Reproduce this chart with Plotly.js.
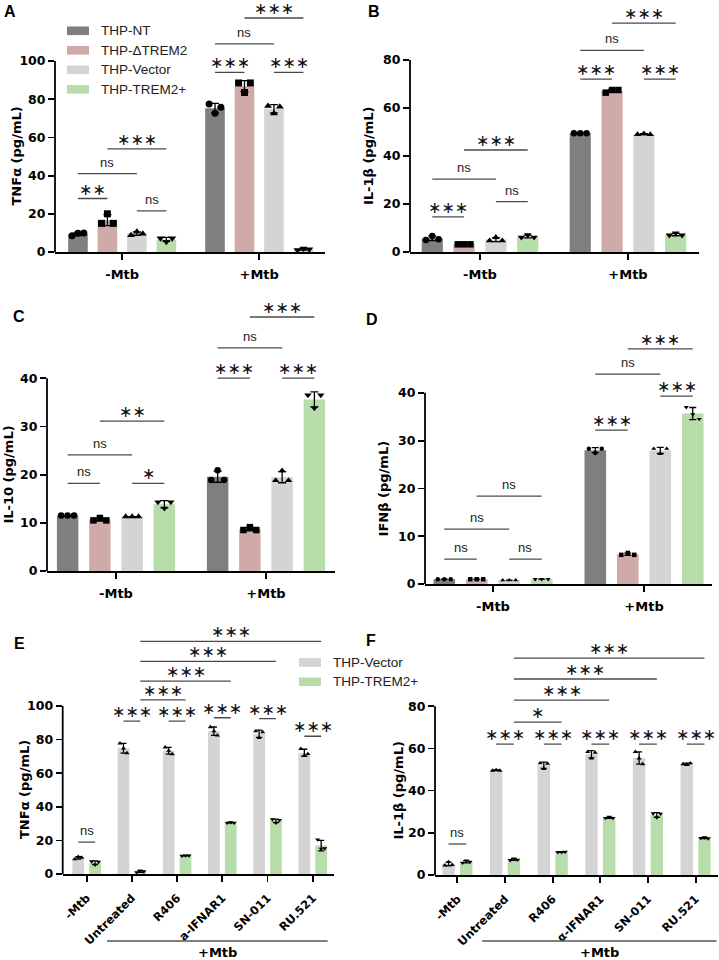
<!DOCTYPE html>
<html><head><meta charset="utf-8">
<script src="https://cdn.plot.ly/plotly-3.0.1.min.js"></script>
<style>html,body{margin:0;padding:0;background:#fff}#chart{width:719px;height:960px}</style>
</head><body><div id="chart"></div>
<script>
// ================= DATA =================
const groupsAD = ['-Mtb', '+Mtb'];
const seriesAD = ['THP-NT', 'THP-\u0394TREM2', 'THP-Vector', 'THP-TREM2+'];

// Panel A: TNFα (pg/mL) – replicates per group [-Mtb, +Mtb]
const tnfA_NT      = [[8.5, 9.8, 10], [77.5, 72.6, 75.8]];
const tnfA_dTREM2  = [[15, 20, 15], [88.5, 83.5, 88.5]];
const tnfA_Vector  = [[8.8, 10.6, 9.6], [76.5, 72.5, 76]];
const tnfA_TREM2p  = [[7.2, 5.4, 7.2], [1, 1.8, 1.5]];

// Panel B: IL-1β (pg/mL)
const il1bB_NT     = [[5, 6.7, 5.3], [49.5, 49.5, 49.5]];
const il1bB_dTREM2 = [[3.2, 3.2, 3.2], [66.4, 67.5, 67.5]];
const il1bB_Vector = [[4.7, 6.1, 4.7], [49, 49.3, 49]];
const il1bB_TREM2p = [[6.1, 7.1, 6.1], [7, 7.9, 7]];

// Panel C: IL-10 (pg/mL)
const il10C_NT     = [[11.5, 11.5, 11.5], [18.9, 20.9, 18.9]];
const il10C_dTREM2 = [[10.5, 11, 10.5], [8.5, 9.1, 8.5]];
const il10C_Vector = [[11.3, 11.3, 11.3], [18.8, 20.8, 18.8]];
const il10C_TREM2p = [[14.3, 13, 14.3], [36.5, 33.8, 36.5]];

// Panel D: IFNβ (pg/mL)
const ifnD_NT      = [[1, 1, 1], [28.3, 27.4, 28.3]];
const ifnD_dTREM2  = [[1, 1, 1], [6.1, 6.5, 6.1]];
const ifnD_Vector  = [[0.8, 0.8, 0.8], [28.3, 27.2, 28.3]];
const ifnD_TREM2p  = [[1, 1, 1], [37, 35.5, 34.5]];

// Panels E/F
const treatEF = ['-Mtb', 'Untreated', 'R406', 'a-IFNAR1', 'SN-011', 'RU.521'];
const treatF  = ['-Mtb', 'Untreated', 'R406', '\u03b1-IFNAR1', 'SN-011', 'RU.521'];
const seriesEF = ['THP-Vector', 'THP-TREM2+'];

const tnfE_Vector = [[8.8, 10.2, 9.8], [77.8, 74.8, 72], [75.4, 73.4, 71.4], [87.5, 85, 82.5], [85, 81, 84.5], [74.5, 70.5, 71.5]];
const tnfE_TREM2p = [[7.5, 5.5, 7.2], [1, 2, 1.5], [10.8, 11, 11], [30.5, 30.8, 30.5], [32.5, 30.5, 32], [20.5, 15, 15.2]];

const il1bF_Vector = [[4.6, 6.2, 4.8], [49.5, 49.8, 49.5], [53, 50.3, 52.8], [58.4, 55.3, 58], [58.4, 55.3, 52.6], [52.6, 52.2, 53]];
const il1bF_TREM2p = [[5.8, 6.8, 6.2], [7, 7.8, 7.2], [10.8, 10.8, 11], [27, 27.5, 27], [29.2, 27.2, 29], [17.5, 17.8, 17.3]];

// Significance: [group1, series1, group2, series2, level, label]
const sigA = [[0,0,0,1,28,'**'],[0,2,0,3,21.5,'ns'],[0,0,0,2,41,'ns'],[0,1,0,3,54,'***'],
              [1,0,1,1,94,'***'],[1,2,1,3,94,'***'],[1,0,1,2,109,'ns'],[1,1,1,3,122.5,'***']];
const sigB = [[0,0,0,1,14.6,'***'],[0,2,0,3,21,'ns'],[0,0,0,2,30.4,'ns'],[0,1,0,3,42.5,'***'],
              [1,0,1,1,72,'***'],[1,2,1,3,72,'***'],[1,0,1,2,84,'ns'],[1,1,1,3,95.4,'***']];
const sigC = [[0,0,0,1,18.2,'ns'],[0,2,0,3,18.2,'*'],[0,0,0,2,24.1,'ns'],[0,1,0,3,31.1,'**'],
              [1,0,1,1,40,'***'],[1,2,1,3,40,'***'],[1,0,1,2,46.3,'ns'],[1,1,1,3,52.7,'***']];
const sigD = [[0,0,0,1,5.2,'ns'],[0,2,0,3,5.2,'ns'],[0,0,0,2,11.5,'ns'],[0,1,0,3,18.4,'ns'],
              [1,0,1,1,32.2,'***'],[1,2,1,3,39.3,'***'],[1,0,1,2,43.9,'ns'],[1,1,1,3,49.2,'***']];
const sigE = [[0,0,0,1,19,'ns'],[1,0,1,1,91,'***'],[2,0,2,1,91,'***'],[3,0,3,1,93,'***'],[4,0,4,1,92.5,'***'],[5,0,5,1,82,'***'],
              [1,1,2,1,103.6,'***'],[1,1,3,1,114.8,'***'],[1,1,4,1,126.6,'***'],[1,1,5,1,138.5,'***']];
const sigF = [[0,0,0,1,14.7,'ns'],[1,0,1,1,62,'***'],[2,0,2,1,62,'***'],[3,0,3,1,62,'***'],[4,0,4,1,62,'***'],[5,0,5,1,62,'***'],
              [1,1,2,1,72.5,'*'],[1,1,3,1,82.9,'***'],[1,1,4,1,92.9,'***'],[1,1,5,1,102.8,'***']];

// ================= STYLE =================
const W = 719, H = 960;
const FB = 'DejaVu Sans, Liberation Sans, Arial, sans-serif';
const FR = 'Liberation Sans, Arial, sans-serif';
const colAD = ['#7f7f7f', '#cfaaa9', '#d4d4d4', '#b9dcab'];
const symAD = ['circle', 'square', 'triangle-up', 'triangle-down'];
const colEF = ['#d4d4d4', '#b9dcab'];
const symEF = ['triangle-up', 'triangle-down'];
const px = v => v / W, py = v => 1 - v / H;

const mean = a => a.reduce((s, v) => s + v, 0) / a.length;
const sd = a => { const m = mean(a); return Math.sqrt(a.reduce((s, v) => s + (v - m) * (v - m), 0) / (a.length - 1)); };

const traces = [], shapes = [], annotations = [], layout = {};

function panel(p) {
  const n = p.idx === 1 ? '' : String(p.idx);
  const xid = 'x' + n, yid = 'y' + n;
  const yTop = p.zeroPx - p.ymax * p.ppu;
  layout['xaxis' + n] = {
    domain: [px(p.xbox[0]), px(p.xbox[1])], range: p.xrange, anchor: yid,
    tickvals: p.cats.map((c, i) => i), ticktext: p.cats, tickangle: p.angle,
    showline: true, linecolor: '#000', linewidth: 1.8, ticks: 'outside', ticklen: 6, tickwidth: 1.8, tickcolor: '#000',
    showgrid: false, zeroline: false, fixedrange: true, ticklabelstandoff: p.standoff,
    tickfont: {family: FB, size: p.xfs, color: '#000', weight: 'bold'}
  };
  layout['yaxis' + n] = {
    domain: [py(p.zeroPx), py(yTop)], range: [0, p.ymax], anchor: xid,
    tickvals: p.yticks, showline: false, ticks: 'outside', ticklen: 6, tickwidth: 1.8, tickcolor: '#000',
    showgrid: false, zeroline: false, fixedrange: true,
    tickfont: {family: FB, size: 12.5, color: '#000', weight: 'bold'}
  };
  // y axis line only up to the last tick
  shapes.push({type: 'line', xref: xid + ' domain', yref: yid, x0: 0, x1: 0, y0: 0, y1: p.yticks[p.yticks.length - 1],
               line: {color: '#000', width: 1.8}});
  p.series.forEach((s, si) => {
    const off = p.offsets[si];
    traces.push({type: 'bar', xaxis: xid, yaxis: yid, x: s.reps.map((r, i) => i + off), y: s.reps.map(mean),
      width: p.bw, marker: {color: s.color, line: {width: 0}}, showlegend: false, hoverinfo: 'skip',
      error_y: {type: 'data', array: s.reps.map(sd), visible: true, color: '#000', thickness: 1.3, width: p.cap}});
    const xs = [], ys = [];
    s.reps.forEach((r, i) => r.forEach((v, k) => { xs.push(i + off + p.jit[k] * p.bw); ys.push(v); }));
    traces.push({type: 'scatter', mode: 'markers', xaxis: xid, yaxis: yid, x: xs, y: ys, cliponaxis: false,
      marker: {symbol: s.symbol, color: '#000', size: p.msize}, showlegend: false, hoverinfo: 'skip'});
  });
  p.sig.forEach(([g1, s1, g2, s2, lev, lab]) => {
    const xa = g1 + p.offsets[s1], xb = g2 + p.offsets[s2];
    shapes.push({type: 'line', xref: xid, yref: yid, x0: xa, x1: xb, y0: lev, y1: lev, line: {color: '#4a4a4a', width: 1.3}});
    const star = lab !== 'ns';
    annotations.push({xref: xid, yref: yid, x: (xa + xb) / 2, y: lev, showarrow: false, yanchor: 'bottom',
      yshift: star ? -2 : 2,
      text: star ? lab.replace(/\*/g, '\u2217') : lab,
      font: star ? {family: 'DejaVu Sans', size: 16, color: '#111'} : {family: FR, size: 13, color: '#222'}});
  });
  const yt = p.yticks[p.yticks.length - 1];
  annotations.push({xref: 'paper', yref: yid, x: px(p.titleX), y: yt / 2, text: p.title, textangle: -90, showarrow: false,
    xanchor: 'center', yanchor: 'middle', font: {family: FB, size: 13, color: '#000', weight: 'bold'}});
  annotations.push({xref: 'paper', yref: 'paper', x: px(p.letter[1]), y: py(p.letter[2]), text: p.letter[0], showarrow: false,
    xanchor: 'left', yanchor: 'top', font: {family: FR, size: 16, color: '#000', weight: 'bold'}});
  if (p.mtb) {
    shapes.push({type: 'line', xref: xid, yref: 'paper', x0: p.mtb[0], x1: p.mtb[1], y0: py(941), y1: py(941), line: {color: '#555', width: 1.5}});
    annotations.push({xref: xid, yref: 'paper', x: (p.mtb[0] + p.mtb[1]) / 2, y: py(943), text: '+Mtb', showarrow: false,
      yanchor: 'top', font: {family: FB, size: 13, color: '#000', weight: 'bold'}});
  }
}

const offAD = [-1.5, -0.5, 0.5, 1.5].map(k => k * 0.215);
const offEF = [-0.186, 0.186];
const jit3 = [-0.3, 0, 0.3];
const mkAD = reps => reps.map((r, i) => ({name: seriesAD[i], color: colAD[i], symbol: symAD[i], reps: r}));
const mkEF = reps => reps.map((r, i) => ({name: seriesEF[i], color: colEF[i], symbol: symEF[i], reps: r}));

const baseAD = {cats: groupsAD, angle: 0, offsets: offAD, bw: 0.143, jit: jit3, cap: 4, xfs: 13, standoff: 4};
panel(Object.assign({}, baseAD, {idx: 1, msize: 7, xbox: [55, 325], zeroPx: 252, ppu: 1.91, ymax: 131, xrange: [-0.49, 1.48],
  yticks: [0, 20, 40, 60, 80, 100], series: mkAD([tnfA_NT, tnfA_dTREM2, tnfA_Vector, tnfA_TREM2p]), sig: sigA,
  title: 'TNF\u03b1 (pg/mL)', titleX: 16, letter: ['A', 2, 1]}));
panel(Object.assign({}, baseAD, {idx: 2, msize: 6.5, xbox: [410, 699], zeroPx: 252, ppu: 2.4, ymax: 104, xrange: [-0.473, 1.48],
  yticks: [0, 20, 40, 60, 80], series: mkAD([il1bB_NT, il1bB_dTREM2, il1bB_Vector, il1bB_TREM2p]), sig: sigB,
  title: 'IL-1\u03b2 (pg/mL)', titleX: 368, letter: ['B', 366, 1]}));
panel(Object.assign({}, baseAD, {idx: 3, msize: 6.5, xbox: [47, 335], zeroPx: 571, ppu: 4.82, ymax: 56, xrange: [-0.46, 1.46],
  yticks: [0, 10, 20, 30, 40], series: mkAD([il10C_NT, il10C_dTREM2, il10C_Vector, il10C_TREM2p]), sig: sigC,
  title: 'IL-10 (pg/mL)', titleX: 9, letter: ['C', 11, 306]}));
panel(Object.assign({}, baseAD, {idx: 4, msize: 4.5, cap: 3.5, xbox: [425, 712], zeroPx: 584, ppu: 4.78, ymax: 52, xrange: [-0.45, 1.45],
  yticks: [0, 10, 20, 30, 40], series: mkAD([ifnD_NT, ifnD_dTREM2, ifnD_Vector, ifnD_TREM2p]), sig: sigD,
  title: 'IFN\u03b2 (pg/mL)', titleX: 383, letter: ['D', 364, 309]}));

const baseEF = {angle: -45, offsets: offEF, bw: 0.26, jit: jit3, msize: 4.5, cap: 3, xfs: 11.5, standoff: 5};
panel(Object.assign({}, baseEF, {idx: 5, cats: treatEF, xbox: [62.7, 334], zeroPx: 874, ppu: 1.68, ymax: 148, xrange: [-0.53, 5.47],
  yticks: [0, 20, 40, 60, 80, 100], series: mkEF([tnfE_Vector, tnfE_TREM2p]), sig: sigE,
  title: 'TNF\u03b1 (pg/mL)', titleX: 24, letter: ['E', 12, 633], mtb: [0.45, 5.33]}));
panel(Object.assign({}, baseEF, {idx: 6, cats: treatF, xbox: [435, 718], zeroPx: 875, ppu: 2.11, ymax: 112, xrange: [-0.47, 5.47],
  yticks: [0, 20, 40, 60, 80], series: mkEF([il1bF_Vector, il1bF_TREM2p]), sig: sigF,
  title: 'IL-1\u03b2 (pg/mL)', titleX: 399, letter: ['F', 364, 630], mtb: [0.52, 5.44]}));

// Manual legends
function legend(names, colors, x0, yc0, dy) {
  names.forEach((nm, i) => {
    const yc = yc0 + i * dy;
    shapes.push({type: 'rect', xref: 'paper', yref: 'paper', x0: px(x0), x1: px(x0 + 22), y0: py(yc + 4.3), y1: py(yc - 4.3),
      fillcolor: colors[i], line: {width: 0}});
    annotations.push({xref: 'paper', yref: 'paper', x: px(x0 + 32), y: py(yc), text: nm, showarrow: false,
      xanchor: 'left', yanchor: 'middle', font: {family: FR, size: 13.5, color: '#222'}});
  });
}
legend(seriesAD, colAD, 67, 30.8, 19.5);
legend(seriesEF, colEF, 299, 662.5, 19.3);

Object.assign(layout, {width: W, height: H, margin: {l: 0, r: 0, t: 0, b: 0}, paper_bgcolor: '#fff', plot_bgcolor: 'rgba(0,0,0,0)',
  barmode: 'overlay', showlegend: false, shapes, annotations});
Plotly.newPlot('chart', traces, layout, {staticPlot: true});
</script></body></html>
